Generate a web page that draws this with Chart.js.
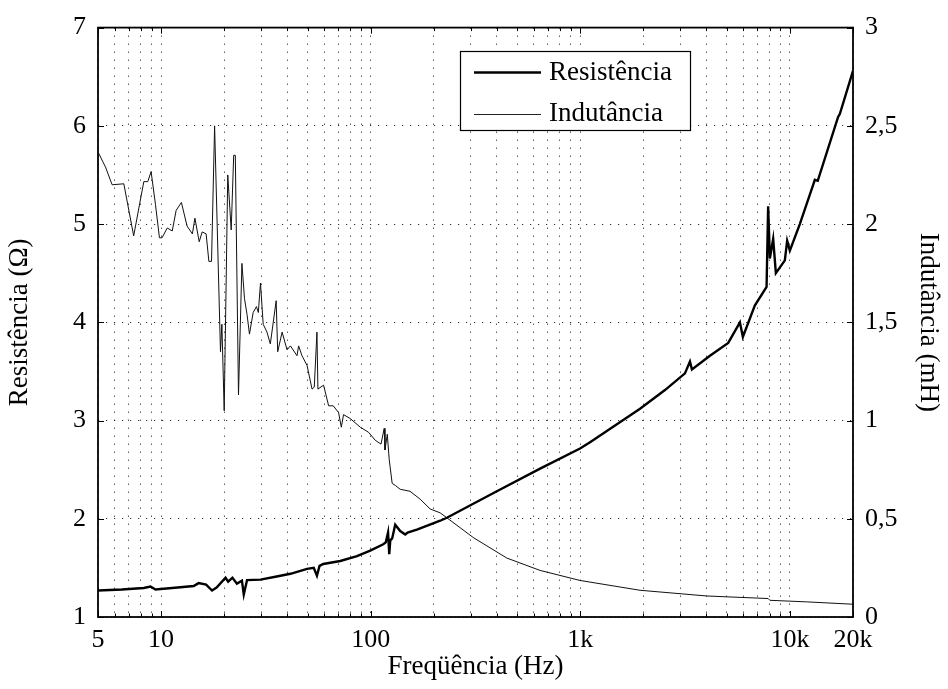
<!DOCTYPE html>
<html><head><meta charset="utf-8">
<script src="https://cdn.jsdelivr.net/npm/chart.js@4"></script>
<style>html,body{margin:0;padding:0;background:#fff}</style>
</head><body>
<canvas id="c" width="948" height="689"></canvas>
<script>
// ---- data ----
const freqR = [5.0,6.5,8.27,8.9,9.4,12,14.3,15.1,16.4,17.5,18.4,20.3,20.9,21.9,23.0,24.3,24.8,25.7,29.8,35.1,41.4,49.7,53.5,55.4,57.0,59.4,71.6,86.0,99.5,114.8,118,121,122.6,124,126.6,130.9,138.3,146.1,150,166.1,214.6,230.9,399.8,643,997,1113,1927,2535,3157,3335,3409,4154,5078,5774,5965,6800,7739,7874,8024,8321,8570,9459,9704,9995,11150,12910,13150,13580,16980,17300,20000];
const resR  = [1.27,1.28,1.295,1.31,1.28,1.30,1.315,1.345,1.33,1.27,1.30,1.40,1.36,1.40,1.34,1.37,1.23,1.375,1.38,1.41,1.44,1.49,1.50,1.42,1.52,1.54,1.57,1.62,1.675,1.74,1.76,1.86,1.64,1.78,1.80,1.94,1.875,1.84,1.86,1.89,1.98,2.01,2.28,2.51,2.715,2.78,3.12,3.31,3.48,3.60,3.52,3.66,3.79,4.00,3.85,4.17,4.36,5.18,4.65,4.85,4.50,4.63,4.83,4.73,5.00,5.40,5.45,5.44,6.09,6.12,6.56];
const freqL = [5.04,5.43,5.84,6.64,7.40,8.27,8.64,8.96,9.4,9.82,10.1,10.7,11.3,11.8,12.5,13.3,14.1,14.5,15.2,15.7,16.4,16.9,17.4,18.0,19.2,19.5,20.0,20.8,21.6,22.2,22.6,23.4,24.3,25.0,25.7,26.4,27.5,28.5,29.1,29.8,30.7,32.0,33.2,35.4,36.0,37.8,39.9,41.4,44.5,45.3,47.0,49.7,52.5,53.8,55.4,56.0,59.6,63.0,66.3,70.3,72.4,74.2,79.9,89.2,97.7,105,112,116,117,120,122.6,126.6,130.9,138.3,154,172,192,214.6,230.9,309,446,643,997,1927,4007,7874,8024,12005,20000];
const indL  = [2.36,2.29,2.20,2.205,1.94,2.216,2.216,2.267,2.10,1.93,1.93,1.98,1.965,2.07,2.11,1.99,1.95,2.03,1.91,1.96,1.95,1.81,1.81,2.50,1.35,1.49,1.05,2.25,1.97,2.35,2.35,1.13,1.80,1.62,1.54,1.44,1.55,1.58,1.55,1.70,1.49,1.45,1.39,1.61,1.35,1.45,1.36,1.38,1.33,1.38,1.33,1.28,1.16,1.17,1.45,1.16,1.18,1.075,1.075,1.04,0.966,1.03,1.01,0.966,0.94,0.90,0.88,0.96,0.85,0.93,0.80,0.68,0.67,0.65,0.64,0.60,0.55,0.53,0.505,0.404,0.30,0.237,0.186,0.136,0.107,0.094,0.085,0.077,0.065];

const xTickValues = [5,6,7,8,9,10,20,30,40,50,60,70,80,90,100,200,300,400,500,600,700,800,900,1000,2000,3000,4000,5000,6000,7000,8000,9000,10000,20000];
const xMajorValues = [5,10,100,1000,10000,20000];
const xMajorLabels = ['5','10','100','1k','10k','20k'];
const yLeftTicks = [1,2,3,4,5,6,7];
const yRightTicks = [0,0.5,1,1.5,2,2.5,3];
const yRightLabels = ['0','0,5','1','1,5','2','2,5','3'];
const seriesNames = ['Resistência','Indutância'];

const FONT = 'Liberation Serif';
const f26 = {family: FONT, size: 26};
const f27 = {family: FONT, size: 27};

const frameAndLegend = {
  id: 'frameAndLegend',
  afterDraw(chart) {
    const ctx = chart.ctx;
    const {left, right, top, bottom} = chart.chartArea;
    const xs = chart.scales.x, ys = chart.scales.y, ys1 = chart.scales.y1;
    ctx.save();
    ctx.strokeStyle = '#000';
    ctx.lineWidth = 1;
    ctx.beginPath();
    xTickValues.forEach(v => {
      const px = Math.round(xs.getPixelForValue(v)) + 0.5;
      const len = xMajorValues.includes(v) ? 6 : 3.5;
      ctx.moveTo(px, bottom); ctx.lineTo(px, bottom - len);
      ctx.moveTo(px, top); ctx.lineTo(px, top + len);
    });
    yLeftTicks.forEach(v => {
      const py = Math.round(ys.getPixelForValue(v)) + 0.5;
      ctx.moveTo(left, py); ctx.lineTo(left + 6, py);
    });
    yRightTicks.forEach(v => {
      const py = Math.round(ys1.getPixelForValue(v)) + 0.5;
      ctx.moveTo(right, py); ctx.lineTo(right - 6, py);
    });
    ctx.stroke();
    ctx.lineWidth = 1.8;
    ctx.strokeRect(left, top, right - left, bottom - top);

    // legend box
    ctx.fillStyle = '#fff';
    ctx.fillRect(460.5, 51.5, 230, 79);
    ctx.lineWidth = 1.2;
    ctx.strokeRect(460.5, 51.5, 230, 79);
    ctx.beginPath();
    ctx.lineWidth = 2.4;
    ctx.moveTo(474, 72.5); ctx.lineTo(541, 72.5);
    ctx.stroke();
    ctx.beginPath();
    ctx.lineWidth = 1;
    ctx.strokeStyle = '#222';
    ctx.moveTo(474, 114.5); ctx.lineTo(541, 114.5);
    ctx.stroke();
    ctx.fillStyle = '#000';
    ctx.font = '27px "' + FONT + '"';
    ctx.textBaseline = 'alphabetic';
    ctx.textAlign = 'left';
    ctx.fillText(seriesNames[0], 549, 80);
    ctx.fillText(seriesNames[1], 549, 121);
    ctx.restore();
  }
};

new Chart(document.getElementById('c'), {
  type: 'scatter',
  data: {
    datasets: [
      {label: seriesNames[0], data: freqR.map((f, i) => ({x: f, y: resR[i]})), yAxisID: 'y',
       showLine: true, borderColor: '#000', borderWidth: 2.4, pointRadius: 0, tension: 0},
      {label: seriesNames[1], data: freqL.map((f, i) => ({x: f, y: indL[i]})), yAxisID: 'y1',
       showLine: true, borderColor: '#111', borderWidth: 1, pointRadius: 0, tension: 0}
    ]
  },
  options: {
    responsive: false, animation: false, devicePixelRatio: 1,
    layout: {padding: {top: 21, left: 0, right: 0, bottom: 0}},
    plugins: {legend: {display: false}, tooltip: {enabled: false}},
    scales: {
      x: {
        type: 'logarithmic', position: 'bottom', min: 5, max: 20000,
        afterBuildTicks: s => { s.ticks = xTickValues.map(v => ({value: v})); },
        afterFit: s => { s.height = 72; },
        ticks: {autoSkip: false, maxRotation: 0, minRotation: 0, padding: 8, color: '#000', font: f26,
          callback: v => { const i = xMajorValues.indexOf(v); return i >= 0 ? xMajorLabels[i] : ''; }},
        grid: {drawTicks: false, color: 'rgba(0,0,0,0.8)', lineWidth: 1},
        border: {display: false, dash: [1.2, 6.8]},
        title: {display: true, text: 'Freqüência (Hz)', color: '#000', font: f27, padding: {top: 0, bottom: 6}}
      },
      y: {
        type: 'linear', position: 'left', min: 1, max: 7,
        afterBuildTicks: s => { s.ticks = yLeftTicks.map(v => ({value: v})); },
        afterFit: s => { s.width = 98; },
        ticks: {padding: 12, color: '#000', font: f26, callback: v => String(v)},
        grid: {drawTicks: false, color: 'rgba(0,0,0,0.8)', lineWidth: 1},
        border: {display: false, dash: [1.2, 6.8]},
        title: {display: true, text: 'Resistência (Ω)', color: '#000', font: f27, padding: {top: 4, bottom: 4}}
      },
      y1: {
        type: 'linear', position: 'right', min: 0, max: 3,
        afterBuildTicks: s => { s.ticks = yRightTicks.map(v => ({value: v})); },
        afterFit: s => { s.width = 95; },
        ticks: {padding: 12, color: '#000', font: f26,
          callback: v => { const i = yRightTicks.indexOf(v); return i >= 0 ? yRightLabels[i] : ''; }},
        grid: {display: false, drawTicks: false},
        border: {display: false},
        title: {display: true, text: 'Indutância (mH)', color: '#000', font: f27, padding: {top: 4, bottom: 4}}
      }
    }
  },
  plugins: [frameAndLegend]
});
</script>
</body></html>
